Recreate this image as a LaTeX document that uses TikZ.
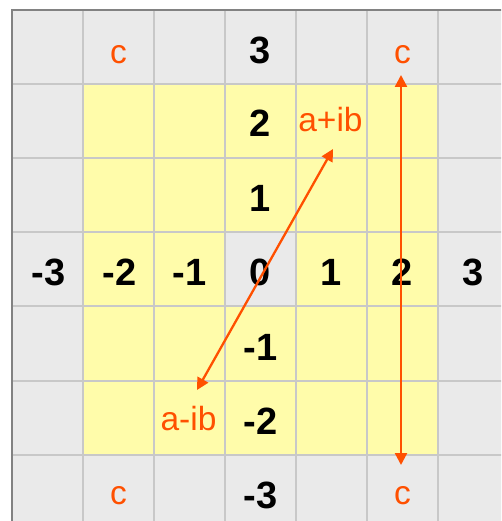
\documentclass[tikz,border=0pt]{standalone}
\usepackage{fontspec}
\setmainfont{Liberation Sans}
\usetikzlibrary{arrows.meta}
\definecolor{cellgray}{RGB}{234,234,234}
\definecolor{cellyellow}{RGB}{255,252,170}
\definecolor{gridline}{RGB}{200,200,200}
\definecolor{bordergray}{RGB}{130,130,130}
\definecolor{accent}{RGB}{255,80,0}
\begin{document}
\begin{tikzpicture}[x=1pt,y=-1pt,
  num/.style={anchor=base,inner sep=0pt,font=\fontsize{38}{41}\selectfont\bfseries},
  lbl/.style={anchor=base,inner sep=0pt,text=accent,font=\fontsize{33.5}{37}\selectfont},
  conn/.style={draw=accent,line width=2.3pt,{Triangle[length=12pt,width=12pt]}-{Triangle[length=12pt,width=12pt]}},
  gridln/.style={draw=gridline,line width=1.3pt}]
\useasboundingbox (0,0) rectangle (501,521);
\fill[white] (0,0) rectangle (501,521);
\begin{scope}
  \clip (0,0) rectangle (501,521);
  \fill[cellgray] (12,10) rectangle (509,529);
  \fill[cellyellow] (83,84) rectangle (438,455);
  \fill[cellgray] (225,232) rectangle (296,306);
  \foreach \x in {83,154,225,296,367,438} \draw[gridln] (\x,10) -- (\x,529);
  \foreach \y in {84,158,232,306,381,455} \draw[gridln] (12,\y) -- (509,\y);
  \draw[bordergray,line width=1.8pt] (12,529) -- (12,10) -- (509,10);
\end{scope}
% vertical axis labels
\node[num] (v3)  at (260.5,64)    {3};
\node[num] (v2)  at (260.5,137)   {2};
\node[num] (v1)  at (260.5,211.5) {1};
\node[num] (v0)  at (260.5,285.7) {0};
\node[num] (vm1) at (260.5,360)   {-1};
\node[num] (vm2) at (260.5,434)   {-2};
\node[num] (vm3) at (260.5,508)   {-3};
% horizontal axis labels
\node[num] (hm3) at (48.5,285.7)  {-3};
\node[num] (hm2) at (119.5,285.7) {-2};
\node[num] (hm1) at (189.5,285.7) {-1};
\node[num] (h1)  at (331.5,285.7) {1};
\node[num] (h2)  at (402.5,285.7) {2};
\node[num] (h3)  at (473.5,285.7) {3};
% orange labels
\node[lbl] (ctl) at (118.5,63.5) {c};
\node[lbl] (ctr) at (402.5,63.5) {c};
\node[lbl] (cbl) at (118.5,504)  {c};
\node[lbl] (cbr) at (402.5,504)  {c};
\node[lbl] (apb) at (330.5,132)  {a+ib};
\node[lbl] (amb) at (188.5,430)  {a-ib};
% connectors
\coordinate (vt) at (401,75);
\coordinate (vb) at (401,465);
\coordinate (dt) at (333,149);
\coordinate (db) at (197,390);
\draw[conn] (vb) -- (vt);
\draw[conn] (db) -- (dt);
\end{tikzpicture}
\end{document}
